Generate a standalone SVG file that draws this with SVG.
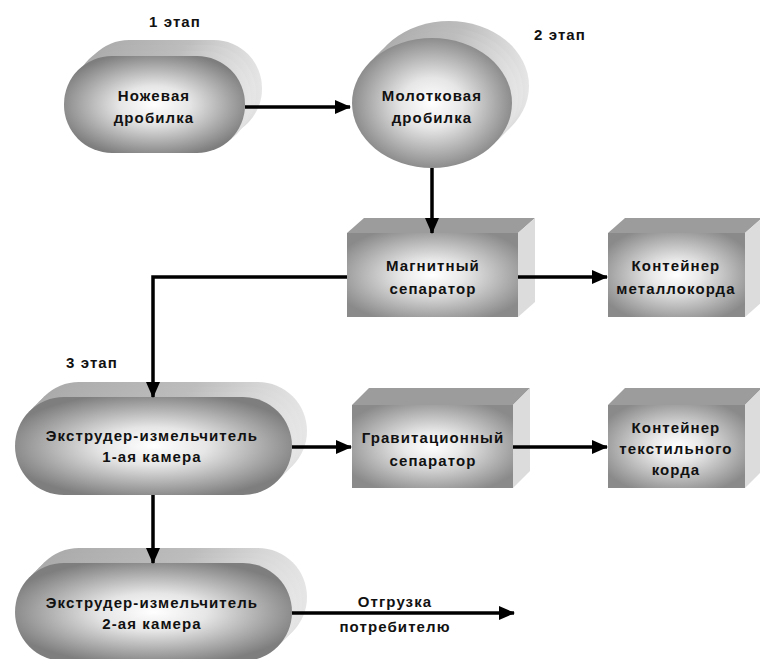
<svg xmlns="http://www.w3.org/2000/svg" width="760" height="659" viewBox="0 0 760 659">
<defs>
<radialGradient id="gFront" cx="0.5" cy="0.5" r="0.55">
<stop offset="0" stop-color="#ffffff"/>
<stop offset="0.35" stop-color="#e6e6e6"/>
<stop offset="1" stop-color="#7e7e7e"/>
</radialGradient>
<radialGradient id="gBox" cx="0.5" cy="0.5" r="0.6">
<stop offset="0" stop-color="#ffffff"/>
<stop offset="0.3" stop-color="#e8e8e8"/>
<stop offset="1" stop-color="#8a8a8a"/>
</radialGradient>
<linearGradient id="gBack" x1="0" y1="0" x2="1" y2="0">
<stop offset="0" stop-color="#a8a8a8"/>
<stop offset="0.6" stop-color="#bdbdbd"/>
<stop offset="1" stop-color="#e6e6e6"/>
</linearGradient>
<marker id="arr" markerUnits="userSpaceOnUse" markerWidth="16" markerHeight="14" refX="15" refY="7" orient="auto">
<path d="M0,0 L16,7 L0,14 Z" fill="#000"/>
</marker>
<style>
text{font-family:"Liberation Sans",Arial,sans-serif;font-weight:bold;font-size:15px;letter-spacing:1.1px;fill:#111;text-anchor:middle}
.back{fill:url(#gBack)}
.front{fill:url(#gFront)}
.box{fill:url(#gBox)}
.top{fill:#9c9c9c}
.side{fill:#dcdcdc}
.ln{stroke:#000;stroke-width:3.5;fill:none}
</style>
</defs>
<rect width="760" height="659" fill="#fff"/>
<text x="175" y="27">1 этап</text>
<text x="560" y="40">2 этап</text>
<text x="92" y="368">3 этап</text>
<g id="n1">
<rect class="back" x="81" y="40" width="181" height="97" rx="48"/>
<rect class="back" x="75" y="45" width="181" height="97" rx="48"/>
<rect class="back" x="70" y="51" width="181" height="97" rx="48"/>
<rect class="front" x="64" y="56" width="181" height="97" rx="48"/>
<text x="154" y="101">Ножевая</text>
<text x="154" y="123">дробилка</text>
</g>
<g id="n2">
<ellipse class="back" cx="449" cy="86" rx="80" ry="65"/>
<ellipse class="back" cx="443" cy="92" rx="80" ry="65"/>
<ellipse class="back" cx="438" cy="97" rx="80" ry="65"/>
<ellipse class="front" cx="432" cy="103" rx="80" ry="65"/>
<text x="432" y="101">Молотковая</text>
<text x="432" y="123">дробилка</text>
</g>
<g id="n3">
<polygon class="top" points="347,233 364,218 535,218 518,233"/>
<polygon class="side" points="518,233 535,218 535,302 518,317"/>
<rect class="box" x="347" y="233" width="171" height="84"/>
<text x="433" y="271">Магнитный</text>
<text x="433" y="294">сепаратор</text>
</g>
<g id="n4">
<polygon class="top" points="608,233 625,218 762,218 745,233"/>
<polygon class="side" points="745,233 762,218 762,302 745,317"/>
<rect class="box" x="608" y="233" width="137" height="84"/>
<text x="676" y="271">Контейнер</text>
<text x="676" y="294">металлокорда</text>
</g>
<g id="n5">
<rect class="back" x="30" y="382" width="277" height="98" rx="49"/>
<rect class="back" x="25" y="387" width="277" height="98" rx="49"/>
<rect class="back" x="20" y="392" width="277" height="98" rx="49"/>
<rect class="front" x="15" y="397" width="277" height="98" rx="49"/>
<text x="152" y="441">Экструдер-измельчитель</text>
<text x="152" y="462">1-ая камера</text>
</g>
<g id="n6">
<polygon class="top" points="352,405 369,388 530,388 513,405"/>
<polygon class="side" points="513,405 530,388 530,471 513,488"/>
<rect class="box" x="352" y="405" width="161" height="83"/>
<text x="433" y="443">Гравитационный</text>
<text x="433" y="466">сепаратор</text>
</g>
<g id="n7">
<polygon class="top" points="608,405 625,388 762,388 745,405"/>
<polygon class="side" points="745,405 762,388 762,471 745,488"/>
<rect class="box" x="608" y="405" width="137" height="83"/>
<text x="676" y="433">Контейнер</text>
<text x="676" y="454">текстильного</text>
<text x="676" y="475">корда</text>
</g>
<g id="n8">
<rect class="back" x="30" y="548" width="277" height="98" rx="49"/>
<rect class="back" x="25" y="553" width="277" height="98" rx="49"/>
<rect class="back" x="20" y="558" width="277" height="98" rx="49"/>
<rect class="front" x="15" y="563" width="277" height="98" rx="49"/>
<text x="152" y="608">Экструдер-измельчитель</text>
<text x="152" y="629">2-ая камера</text>
</g>
<g id="connectors">
<line class="ln" x1="245" y1="107" x2="350" y2="107" marker-end="url(#arr)"/>
<line class="ln" x1="432" y1="168" x2="432" y2="233" marker-end="url(#arr)"/>
<line class="ln" x1="518" y1="277" x2="607" y2="277" marker-end="url(#arr)"/>
<polyline class="ln" points="347,277 153,277 153,397" marker-end="url(#arr)"/>
<line class="ln" x1="292" y1="447" x2="351" y2="447" marker-end="url(#arr)"/>
<line class="ln" x1="513" y1="447" x2="607" y2="447" marker-end="url(#arr)"/>
<line class="ln" x1="153" y1="495" x2="153" y2="563" marker-end="url(#arr)"/>
<line class="ln" x1="292" y1="613" x2="514" y2="613" marker-end="url(#arr)"/>
</g>
<text x="395" y="607">Отгрузка</text>
<text x="395" y="632">потребителю</text>
</svg>
